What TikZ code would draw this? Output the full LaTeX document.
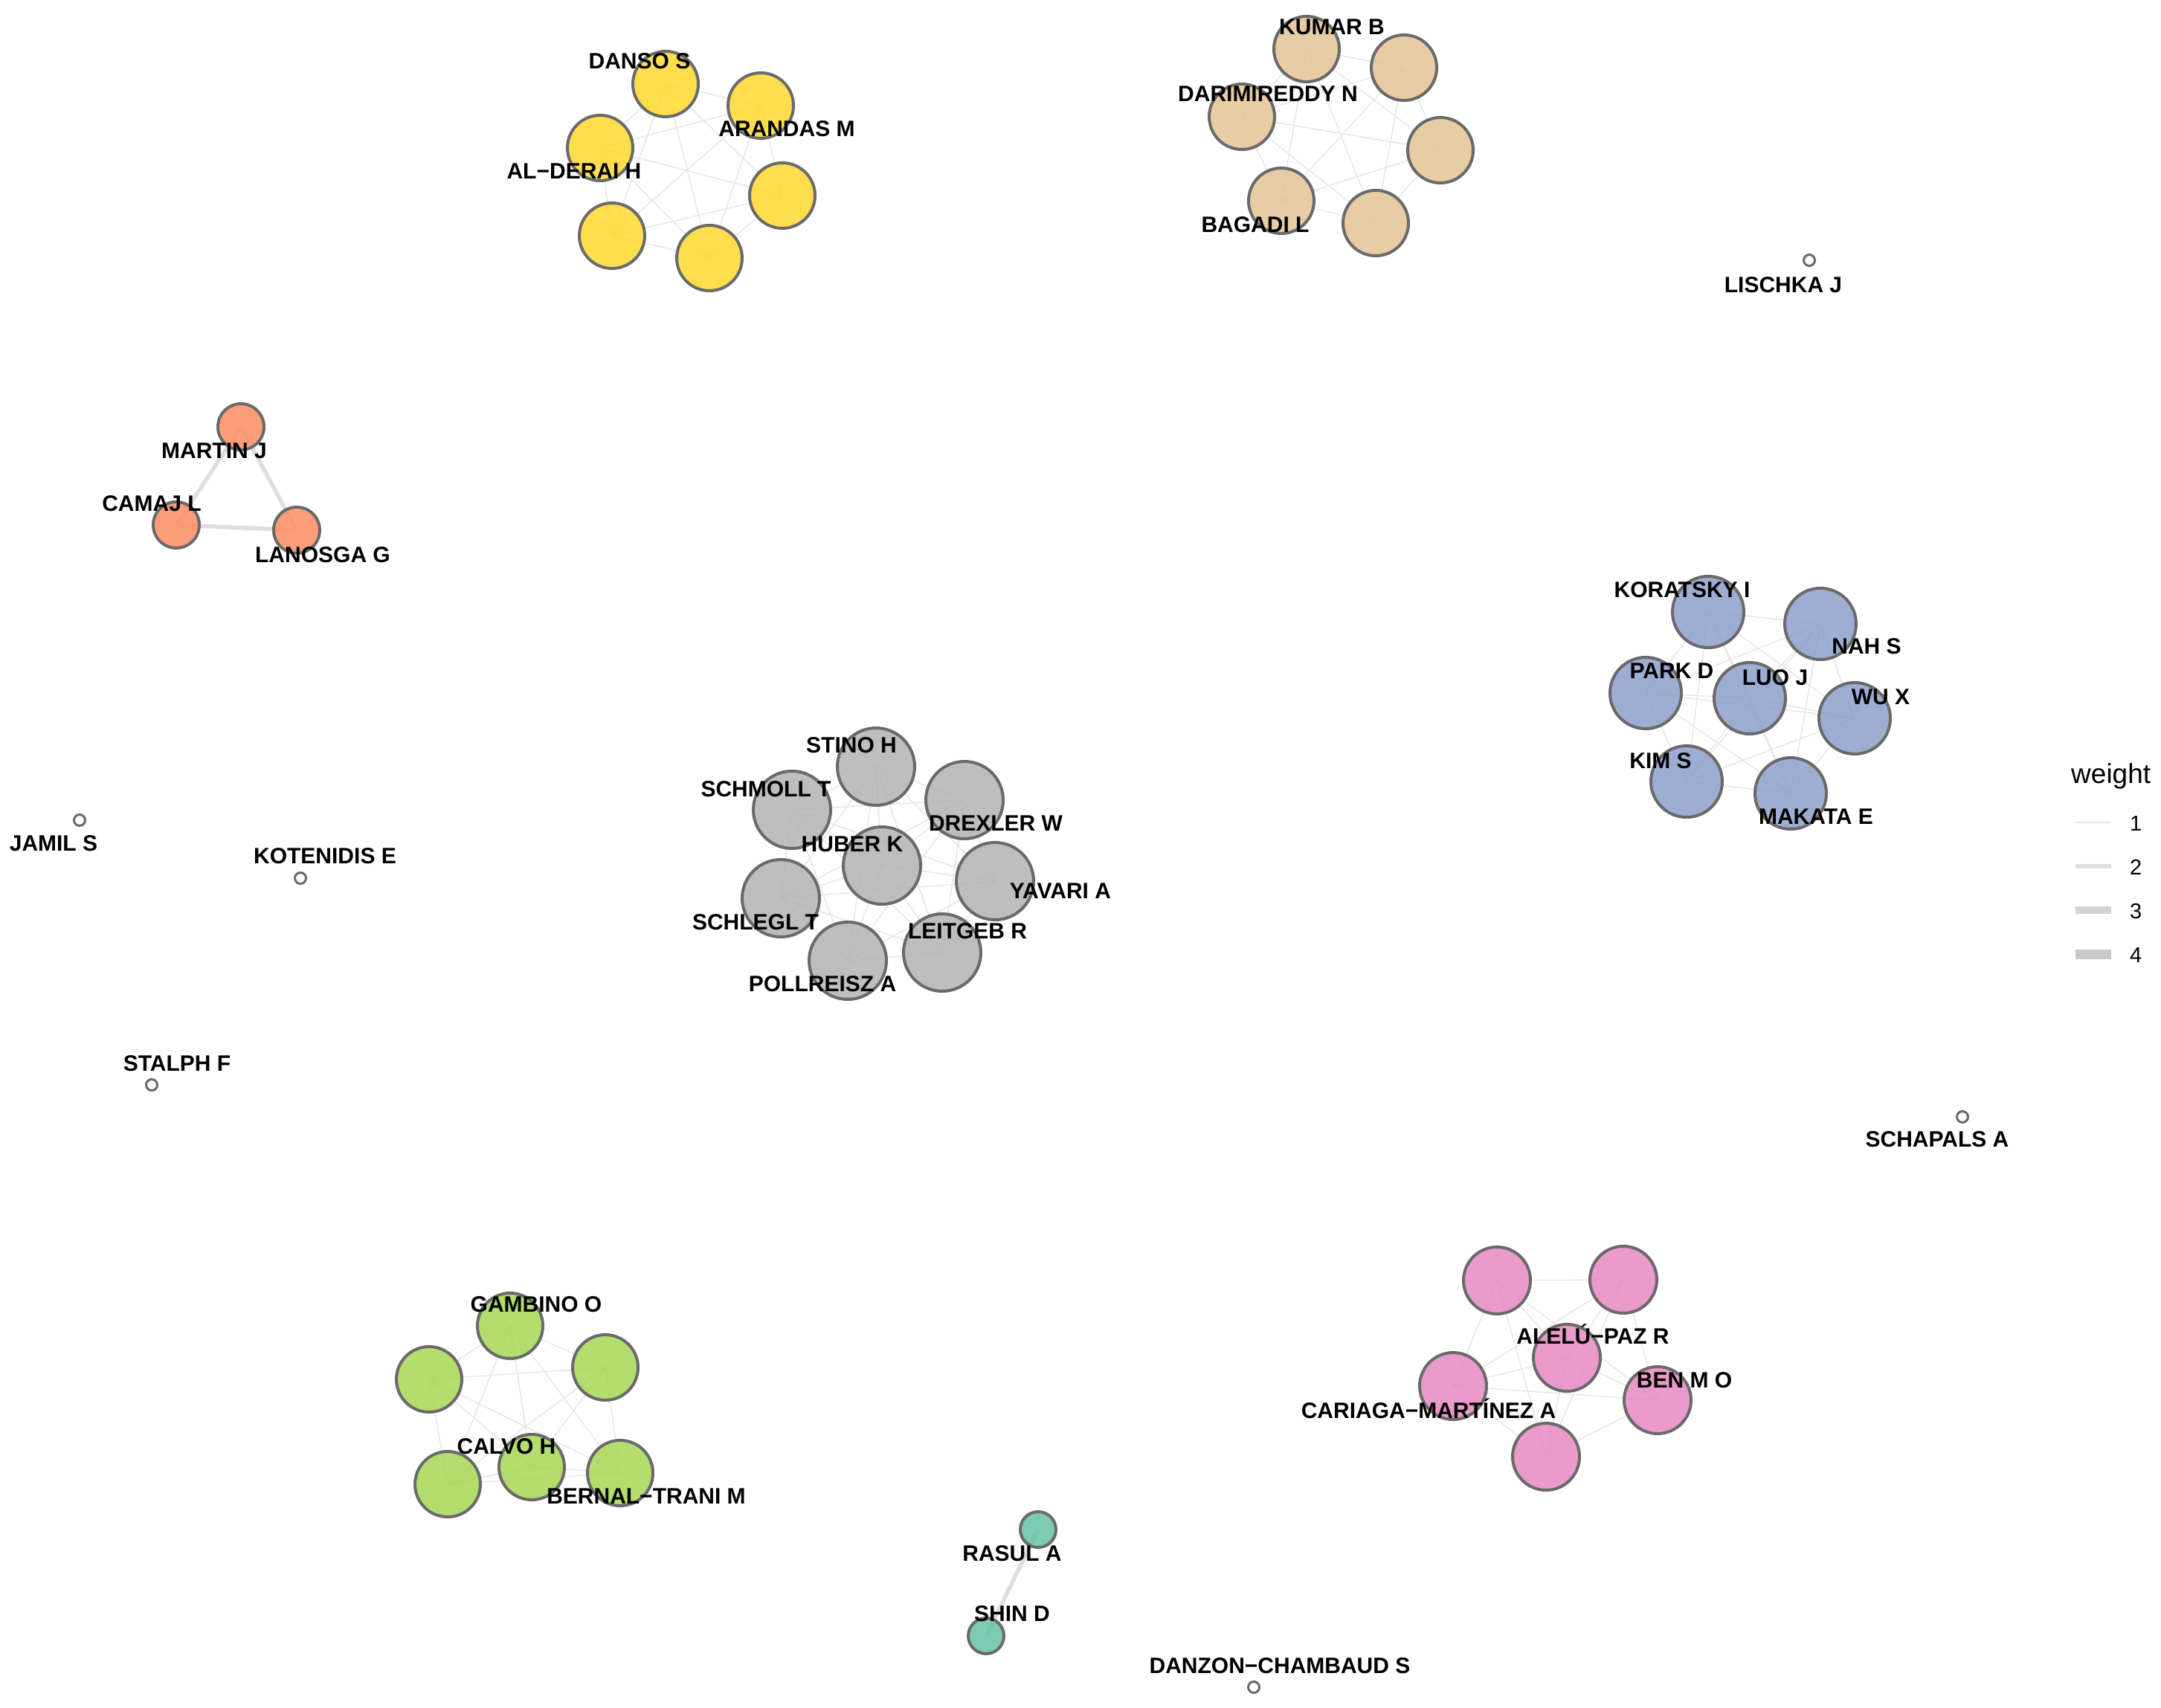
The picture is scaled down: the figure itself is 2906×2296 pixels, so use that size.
\documentclass[tikz,border=0pt]{standalone}
\usepackage{fontspec}
\setmainfont{Liberation Sans}
\pgfdeclarelayer{background}
\pgfsetlayers{background,main}
\definecolor{cyel}{HTML}{FFD92F}
\definecolor{ctan}{HTML}{E5C494}
\definecolor{cora}{HTML}{FC8D62}
\definecolor{cgry}{HTML}{B3B3B3}
\definecolor{cblu}{HTML}{8DA0CB}
\definecolor{cgrn}{HTML}{A6D854}
\definecolor{cpnk}{HTML}{E78AC3}
\definecolor{ctea}{HTML}{66C2A5}
\definecolor{border}{HTML}{6A6A6A}
\definecolor{wone}{HTML}{E6E6E6}
\definecolor{wtwo}{HTML}{DEDEDE}
\definecolor{wthree}{HTML}{D3D3D3}
\definecolor{wfour}{HTML}{C9C9C9}
\tikzset{
  vtx/.style={circle, draw=border, line width=4pt, inner sep=0pt, fill opacity=0.85, minimum size=#1},
  iso/.style={circle, draw=border, line width=3pt, inner sep=0pt, fill=white, minimum size=15pt},
  lbl/.style={font=\fontsize{30}{30}\selectfont\bfseries, anchor=base, inner sep=0pt},
  lgd/.style={font=\fontsize{29}{29}\selectfont, anchor=base west, inner sep=0pt},
  eone/.style={draw=wone, line width=1.4pt},
  etwo/.style={draw=wtwo, line width=5.5pt},
}
\begin{document}
\begin{tikzpicture}[x=1pt,y=-1pt]
\useasboundingbox (0,0) rectangle (2906,2296);
% yellow cluster
\node[vtx=88pt, fill=cyel] (y1) at (895,113) {};
\node[vtx=88pt, fill=cyel] (y2) at (1023,142) {};
\node[vtx=88pt, fill=cyel] (y3) at (807,199) {};
\node[vtx=88pt, fill=cyel] (y4) at (1052,263) {};
\node[vtx=88pt, fill=cyel] (y5) at (823,317) {};
\node[vtx=88pt, fill=cyel] (y6) at (954,347) {};
% tan cluster
\node[vtx=88pt, fill=ctan] (b1) at (1757,66) {};
\node[vtx=88pt, fill=ctan] (b2) at (1888,91) {};
\node[vtx=88pt, fill=ctan] (b3) at (1670,157) {};
\node[vtx=88pt, fill=ctan] (b4) at (1937,202) {};
\node[vtx=88pt, fill=ctan] (b5) at (1723,270) {};
\node[vtx=88pt, fill=ctan] (b6) at (1850,300) {};
% orange cluster
\node[vtx=62pt, fill=cora] (o1) at (324,574) {};
\node[vtx=62pt, fill=cora] (o2) at (237,706) {};
\node[vtx=62pt, fill=cora] (o3) at (399,713) {};
% gray cluster
\node[vtx=104pt, fill=cgry] (g1) at (1178,1031) {};
\node[vtx=104pt, fill=cgry] (g2) at (1065,1089) {};
\node[vtx=104pt, fill=cgry] (g3) at (1297,1076) {};
\node[vtx=104pt, fill=cgry] (g4) at (1186,1164) {};
\node[vtx=104pt, fill=cgry] (g5) at (1338,1185) {};
\node[vtx=104pt, fill=cgry] (g6) at (1050,1208) {};
\node[vtx=104pt, fill=cgry] (g7) at (1140,1292) {};
\node[vtx=104pt, fill=cgry] (g8) at (1267,1281) {};
% blue cluster
\node[vtx=96pt, fill=cblu] (u1) at (2297,823) {};
\node[vtx=96pt, fill=cblu] (u2) at (2448,839) {};
\node[vtx=96pt, fill=cblu] (u3) at (2213,932) {};
\node[vtx=96pt, fill=cblu] (u4) at (2353,939) {};
\node[vtx=96pt, fill=cblu] (u5) at (2494,966) {};
\node[vtx=96pt, fill=cblu] (u6) at (2268,1051) {};
\node[vtx=96pt, fill=cblu] (u7) at (2408,1067) {};
% green cluster
\node[vtx=88pt, fill=cgrn] (n1) at (686,1783) {};
\node[vtx=88pt, fill=cgrn] (n2) at (577,1855) {};
\node[vtx=88pt, fill=cgrn] (n3) at (814,1839) {};
\node[vtx=88pt, fill=cgrn] (n4) at (715,1973) {};
\node[vtx=88pt, fill=cgrn] (n5) at (602,1996) {};
\node[vtx=88pt, fill=cgrn] (n6) at (834,1981) {};
% pink cluster
\node[vtx=90pt, fill=cpnk] (p1) at (2013,1722) {};
\node[vtx=90pt, fill=cpnk] (p2) at (2183,1721) {};
\node[vtx=90pt, fill=cpnk] (p3) at (2107,1826) {};
\node[vtx=90pt, fill=cpnk] (p4) at (1954,1864) {};
\node[vtx=90pt, fill=cpnk] (p5) at (2229,1883) {};
\node[vtx=90pt, fill=cpnk] (p6) at (2079,1959) {};
% teal pair
\node[vtx=48pt, fill=ctea] (t1) at (1396,2057) {};
\node[vtx=48pt, fill=ctea] (t2) at (1326,2200) {};
% isolated
\node[iso] (lis) at (2433,350) {};
\node[iso] (jam) at (107,1103) {};
\node[iso] (kot) at (404,1181) {};
\node[iso] (sta) at (204,1459) {};
\node[iso] (sch) at (2639,1502) {};
\node[iso] (dan) at (1686,2269) {};

% edges
\begin{pgfonlayer}{background}
\fill[white] (0,0) rectangle (2906,2296);
\foreach \i in {1,...,5}{\pgfmathtruncatemacro\s{\i+1}\foreach \j in {\s,...,6}{
  \draw[eone] (y\i.center) -- (y\j.center);
  \draw[eone] (b\i.center) -- (b\j.center);
  \draw[eone] (n\i.center) -- (n\j.center);
  \draw[eone] (p\i.center) -- (p\j.center);}}
\foreach \i in {1,...,6}{\pgfmathtruncatemacro\s{\i+1}\foreach \j in {\s,...,7}{
  \draw[eone] (u\i.center) -- (u\j.center);}}
\foreach \i in {1,...,7}{\pgfmathtruncatemacro\s{\i+1}\foreach \j in {\s,...,8}{
  \draw[eone] (g\i.center) -- (g\j.center);}}
\draw[etwo] (o1.center) -- (o2.center);
\draw[etwo] (o2.center) -- (o3.center);
\draw[etwo] (o1.center) -- (o3.center);
\draw[etwo] (t1.center) -- (t2.center);
\end{pgfonlayer}

% labels
\node[lbl] (ly1) at (860,93) {DANSO S};
\node[lbl] (ly2) at (1058,183) {ARANDAS M};
\node[lbl] (ly3) at (772,240) {AL−DERAI H};
\node[lbl] (lb1) at (1791,47) {KUMAR B};
\node[lbl] (lb3) at (1705,137) {DARIMIREDDY N};
\node[lbl] (lb5) at (1688,312) {BAGADI L};
\node[lbl] (lo1) at (288,616) {MARTIN J};
\node[lbl] (lo2) at (204,687) {CAMAJ L};
\node[lbl] (lo3) at (434,756) {LANOSGA G};
\node[lbl] (llis) at (2398,393) {LISCHKA J};
\node[lbl] (lg1) at (1145,1012) {STINO H};
\node[lbl] (lg2) at (1030,1071) {SCHMOLL T};
\node[lbl] (lg3) at (1339,1117) {DREXLER W};
\node[lbl] (lg4) at (1146,1145) {HUBER K};
\node[lbl] (lg5) at (1426,1208) {YAVARI A};
\node[lbl] (lg6) at (1016,1250) {SCHLEGL T};
\node[lbl] (lg8) at (1301,1262) {LEITGEB R};
\node[lbl] (lg7) at (1106,1333) {POLLREISZ A};
\node[lbl] (lu1) at (2262,803) {KORATSKY I};
\node[lbl] (lu2) at (2510,879) {NAH S};
\node[lbl] (lu3) at (2248,912) {PARK D};
\node[lbl] (lu4) at (2387,921) {LUO J};
\node[lbl] (lu5) at (2529,947) {WU X};
\node[lbl] (lu6) at (2233,1033) {KIM S};
\node[lbl] (lu7) at (2442,1108) {MAKATA E};
\node[lbl] (ljam) at (72,1144) {JAMIL S};
\node[lbl] (lkot) at (437,1161) {KOTENIDIS E};
\node[lbl] (lsta) at (238,1440) {STALPH F};
\node[lbl] (lsch) at (2605,1542) {SCHAPALS A};
\node[lbl] (ln1) at (721,1764) {GAMBINO O};
\node[lbl] (ln4) at (681,1955) {CALVO H};
\node[lbl] (ln6) at (869,2022) {BERNAL−TRANI M};
\node[lbl] (lp3) at (2142,1807) {ALELÚ−PAZ R};
\node[lbl] (lp5) at (2265,1866) {BEN M O};
\node[lbl] (lp4) at (1921,1907) {CARIAGA−MARTÍNEZ A};
\node[lbl] (lt1) at (1361,2099) {RASUL A};
\node[lbl] (lt2) at (1361,2180) {SHIN D};
\node[lbl] (ldan) at (1721,2250) {DANZON−CHAMBAUD S};

% legend
\node[font=\fontsize{37}{37}\selectfont, anchor=base west, inner sep=0pt] (lgt) at (2785,1053) {weight};
\coordinate (la1) at (2791,1106); \coordinate (lb1e) at (2839,1106);
\coordinate (la2) at (2791,1165); \coordinate (lb2e) at (2839,1165);
\coordinate (la3) at (2791,1224); \coordinate (lb3e) at (2839,1224);
\coordinate (la4) at (2791,1283); \coordinate (lb4e) at (2839,1283);
\draw[draw=wone, line width=1.5pt] (la1) -- (lb1e);
\draw[draw=wtwo, line width=5.5pt] (la2) -- (lb2e);
\draw[draw=wthree, line width=10pt] (la3) -- (lb3e);
\draw[draw=wfour, line width=13pt] (la4) -- (lb4e);
\node[lgd] (n1l) at (2864,1117) {1};
\node[lgd] (n2l) at (2864,1176) {2};
\node[lgd] (n3l) at (2864,1235) {3};
\node[lgd] (n4l) at (2864,1294) {4};
\end{tikzpicture}
\end{document}
